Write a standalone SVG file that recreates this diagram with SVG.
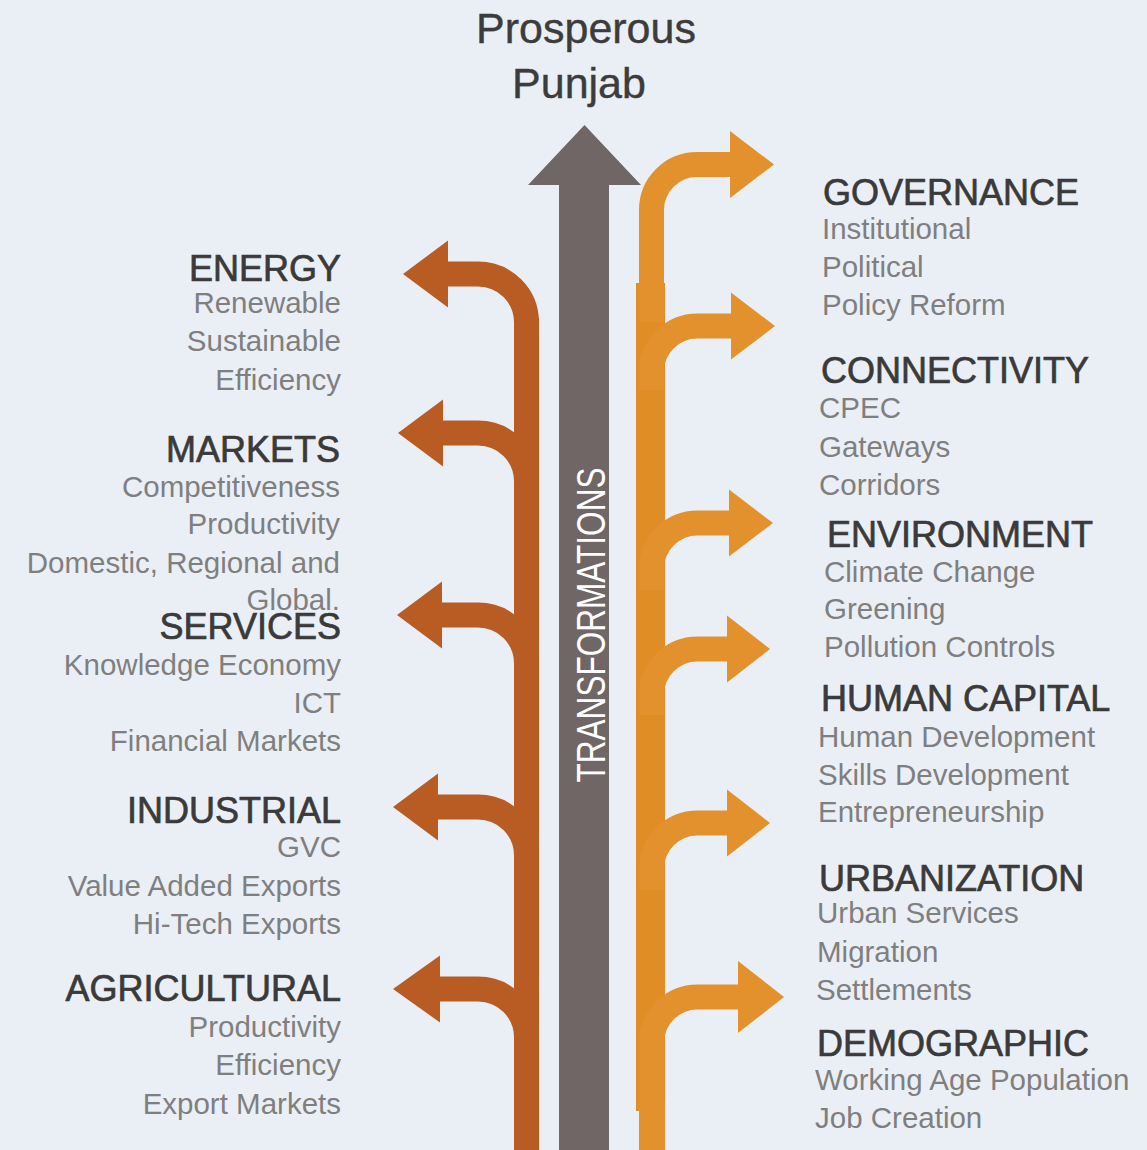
<svg xmlns="http://www.w3.org/2000/svg" width="1147" height="1150" viewBox="0 0 1147 1150">
<style>
.bg{fill:#EAEFF6}
text{font-family:"Liberation Sans",Arial,sans-serif}
.title{font-size:43px;fill:#3c3c3c;text-anchor:middle;stroke:#3c3c3c;stroke-width:0.4}
.h{font-size:36px;fill:#3a3a3a;stroke:#3a3a3a;stroke-width:0.7}
.s{font-size:29.5px;fill:#7f7f7f}
.l text{text-anchor:end}
.r text{text-anchor:start}
.lb{fill:none;stroke:#B95C23;stroke-width:25}
.lh{fill:#B95C23}
.rb{fill:none;stroke:#E3912D;stroke-width:25}
.rh{fill:#E3912D}
.tr{font-size:40px;fill:#ffffff;text-anchor:middle}
</style>
<rect class="bg" x="0" y="0" width="1147" height="1150"/>

<g id="title">
<text class="title" x="586" y="43">Prosperous</text>
<text class="title" x="579" y="98">Punjab</text>
</g>

<g id="main-arrow">
<polygon fill="#706665" points="584.5,125 641,185 609,185 609,1150 559,1150 559,185 528,185"/>
<text class="tr" transform="translate(605,625) rotate(-90)" textLength="315" lengthAdjust="spacingAndGlyphs">TRANSFORMATIONS</text>
</g>

<g id="connectors">
<rect class="lh" x="514" y="318" width="25" height="832"/>
<path class="lb" d="M526.5,340 V322.5 A48.5,48.5 0 0 0 478,274 H440"/>
<polygon class="lh" points="403,274 448,240.5 448,307.5"/>
<path class="lb" d="M526.5,500 V481.5 A48.5,48.5 0 0 0 478,433 H436"/>
<polygon class="lh" points="398,433 443,399.5 443,466.5"/>
<path class="lb" d="M526.5,680 V663.5 A48.5,48.5 0 0 0 478,615 H435"/>
<polygon class="lh" points="397,615 442,581.5 442,648.5"/>
<path class="lb" d="M526.5,870 V855.5 A48.5,48.5 0 0 0 478,807 H431"/>
<polygon class="lh" points="393,807 438,773.5 438,840.5"/>
<path class="lb" d="M526.5,1050 V1037.5 A48.5,48.5 0 0 0 478,989 H431"/>
<polygon class="lh" points="393,989 440,955.5 440,1022.5"/>

<rect x="636" y="283" width="29" height="828" fill="#E18D26"/>
<rect class="rh" x="639" y="1100" width="26" height="50"/>
<path class="rb" d="M651.5,322 V210 A45.5,45.5 0 0 1 697,164.5 H736"/>
<polygon class="rh" points="774,164.5 730,131 730,198"/>
<path class="rb" d="M651.5,390 V372 A46,46 0 0 1 697.5,326 H738"/>
<polygon class="rh" points="775,326 731,292.5 731,359.5"/>
<path class="rb" d="M651.5,590 V569 A46,46 0 0 1 697.5,523 H736"/>
<polygon class="rh" points="773,523 729,489.5 729,556.5"/>
<path class="rb" d="M651.5,715 V695 A46,46 0 0 1 697.5,649 H733"/>
<polygon class="rh" points="770,649 727,615.5 727,682.5"/>
<path class="rb" d="M651.5,890 V869 A46,46 0 0 1 697.5,823 H733"/>
<polygon class="rh" points="770,823 727,789.5 727,856.5"/>
<path class="rb" d="M651.5,1150 V1043 A46,46 0 0 1 697.5,997 H742"/>
<polygon class="rh" points="784,997 738,961 738,1033"/>
</g>

<g id="energy" class="l">
<text class="h" x="341" y="281">ENERGY</text>
<text class="s" x="341" y="313">Renewable</text>
<text class="s" x="341" y="351">Sustainable</text>
<text class="s" x="341" y="390">Efficiency</text>
</g>
<g id="markets" class="l">
<text class="h" x="340" y="462">MARKETS</text>
<text class="s" x="340" y="497">Competitiveness</text>
<text class="s" x="340" y="534">Productivity</text>
<text class="s" x="340" y="573">Domestic, Regional and</text>
<text class="s" x="340" y="610">Global.</text>
</g>
<g id="services" class="l">
<text class="h" x="341" y="639">SERVICES</text>
<text class="s" x="341" y="675">Knowledge Economy</text>
<text class="s" x="341" y="713">ICT</text>
<text class="s" x="341" y="751">Financial Markets</text>
</g>
<g id="industrial" class="l">
<text class="h" x="341" y="823">INDUSTRIAL</text>
<text class="s" x="341" y="857">GVC</text>
<text class="s" x="341" y="896">Value Added Exports</text>
<text class="s" x="341" y="934">Hi-Tech Exports</text>
</g>
<g id="agricultural" class="l">
<text class="h" x="341" y="1001">AGRICULTURAL</text>
<text class="s" x="341" y="1037">Productivity</text>
<text class="s" x="341" y="1075">Efficiency</text>
<text class="s" x="341" y="1114">Export Markets</text>
</g>

<g id="governance" class="r">
<text class="h" x="823" y="205">GOVERNANCE</text>
<text class="s" x="822" y="239">Institutional</text>
<text class="s" x="822" y="277">Political</text>
<text class="s" x="822" y="315">Policy Reform</text>
</g>
<g id="connectivity" class="r">
<text class="h" x="821" y="383">CONNECTIVITY</text>
<text class="s" x="819" y="418">CPEC</text>
<text class="s" x="819" y="457">Gateways</text>
<text class="s" x="819" y="495">Corridors</text>
</g>
<g id="environment" class="r">
<text class="h" x="827" y="547">ENVIRONMENT</text>
<text class="s" x="824" y="582">Climate Change</text>
<text class="s" x="824" y="619">Greening</text>
<text class="s" x="824" y="657">Pollution Controls</text>
</g>
<g id="human-capital" class="r">
<text class="h" x="821" y="711">HUMAN CAPITAL</text>
<text class="s" x="818" y="747">Human Development</text>
<text class="s" x="818" y="785">Skills Development</text>
<text class="s" x="818" y="822">Entrepreneurship</text>
</g>
<g id="urbanization" class="r">
<text class="h" x="819" y="891">URBANIZATION</text>
<text class="s" x="817" y="923">Urban Services</text>
<text class="s" x="817" y="962">Migration</text>
<text class="s" x="816" y="1000">Settlements</text>
</g>
<g id="demographic" class="r">
<text class="h" x="817" y="1056">DEMOGRAPHIC</text>
<text class="s" x="815" y="1090">Working Age Population</text>
<text class="s" x="815" y="1128">Job Creation</text>
</g>
</svg>
